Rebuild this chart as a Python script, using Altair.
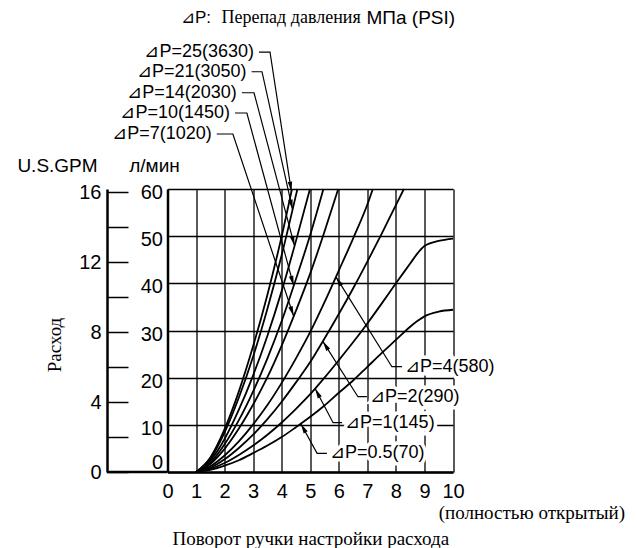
import math
import altair as alt
import numpy as np
import pandas as pd

# ---------------- plot geometry ----------------
W, H = 285.5, 283.0
PX_X = W / 10.0   # pixels per turn
PX_Y = H / 60.0   # pixels per l/min

# ---------------- data ----------------
x_ticks = list(range(0, 11))
lpm_ticks = [0, 10, 20, 30, 40, 50, 60]
gpm_ticks = [0, 2, 4, 6, 8, 10, 12, 14, 16]

dp_names = ["25", "21", "14", "10", "7", "4", "2", "1", "0.5"]
dp_labels = ["⊿P=25(3630)", "⊿P=21(3050)", "⊿P=14(2030)", "⊿P=10(1450)",
             "⊿P=7(1020)", "⊿P=4(580)", "⊿P=2(290)", "⊿P=1(145)", "⊿P=0.5(70)"]

dp25_x = [1, 1.5, 2, 2.5, 3, 3.5, 4, 4.36]
dp25_y = [0, 3.1, 9.1, 17.1, 26.7, 37.6, 50.0, 60]
dp21_x = [1, 1.5, 2, 2.5, 3, 3.5, 4, 4.5, 4.55]
dp21_y = [0, 2.8, 8.4, 15.8, 24.5, 34.6, 46.0, 58.7, 60]
dp14_x = [1, 1.5, 2, 2.5, 3, 3.5, 4, 4.5, 4.99]
dp14_y = [0, 2.4, 7.0, 13.2, 20.5, 28.9, 38.4, 49.0, 60]
dp10_x = [1, 1.5, 2, 2.5, 3, 3.5, 4, 4.5, 5, 5.46]
dp10_y = [0, 2.0, 5.9, 11.0, 17.1, 24.1, 32.0, 40.9, 50.3, 60]
dp7_x = [1, 1.5, 2, 2.5, 3, 3.5, 4, 4.5, 5, 5.5, 5.98]
dp7_y = [0, 1.7, 4.9, 9.2, 14.3, 20.1, 26.8, 34.2, 42.1, 51.0, 60]
dp4_x = [1, 1.5, 2, 2.5, 3, 3.5, 4, 4.5, 5, 5.5, 6, 6.5, 7, 7.19]
dp4_y = [0, 1.2, 3.5, 6.5, 10.1, 14.2, 18.9, 24.1, 29.7, 36.0, 42.7, 49.5, 56.7, 60]
dp2_x = [1, 1.5, 2, 2.5, 3, 3.5, 4, 4.5, 5, 5.5, 6, 6.5, 7, 7.5, 8, 8.28]
dp2_y = [0, 0.9, 2.7, 5.1, 7.9, 11.2, 14.9, 19.0, 23.3, 28.3, 33.5, 38.9, 44.6, 50.5, 56.6, 60]
dp1_x = [1, 1.5, 2, 2.5, 3, 3.5, 4, 4.5, 5, 5.5, 6, 6.5, 7, 7.5, 8, 8.5, 8.75, 9, 9.5, 10]
dp1_y = [0, 0.65, 1.9, 3.6, 5.6, 7.9, 10.5, 13.4, 16.5, 20.0, 23.7, 27.5, 31.5, 35.7, 40.0,
         44.2, 46.3, 47.9, 49.0, 49.5]
dp05_x = [1, 1.5, 2, 2.5, 3, 3.5, 4, 4.5, 5, 5.5, 6, 6.5, 7, 7.5, 8, 8.5, 8.75, 9, 9.5, 10]
dp05_y = [0, 0.45, 1.35, 2.5, 4.0, 5.6, 7.4, 9.5, 11.7, 14.1, 16.8, 19.4, 22.3, 25.2, 28.0,
          30.8, 32.0, 33.0, 34.0, 34.4]

curve_x = [dp25_x, dp21_x, dp14_x, dp10_x, dp7_x, dp4_x, dp2_x, dp1_x, dp05_x]
curve_y = [dp25_y, dp21_y, dp14_y, dp10_y, dp7_y, dp4_y, dp2_y, dp1_y, dp05_y]

# callouts: turn value where each arrow touches its curve
arrow_turn = [4.34, 4.38, 4.45, 4.42, 4.42, 5.90, 5.44, 5.17, 4.67]
# label anchor (turns, l/min) and leader elbow (turns)
label_x = [3.03, 2.77, 2.43, 2.19, 1.55, 8.32, 7.09, 6.22, 5.69]
label_y = [89.04, 84.86, 80.41, 76.11, 71.66, 22.32, 15.96, 10.45, 3.96]
elbow_x = [3.59, 3.31, 3.03, 2.78, 2.29, 7.86, 6.67, 5.80, 5.24]
label_side = ["top"] * 5 + ["right"] * 4

# ---------------- tables ----------------
rows = []
for name, xs, ys in zip(dp_names, curve_x, curve_y):
    for xv, yv in zip(xs, ys):
        rows.append({"dp": name, "turn": xv, "flow": yv})
curves = pd.DataFrame(rows)

lead_rows, arrow_rows, text_rows = [], [], []
for i, name in enumerate(dp_names):
    tx = arrow_turn[i]
    ty = float(np.interp(tx, curve_x[i], curve_y[i]))
    lx, ly, ex = label_x[i], label_y[i], elbow_x[i]
    if label_side[i] == "top":
        dash_start = lx + 5 / PX_X
        align = "right"
    else:
        dash_start = lx - 3 / PX_X
        align = "left"
    pts = [(dash_start, ly), (ex, ly), (tx, ty)]
    for k, (px, py) in enumerate(pts):
        lead_rows.append({"dp": name, "o": k, "turn": px, "flow": py})
    dx = (tx - ex) * PX_X
    dy = -(ty - ly) * PX_Y
    ang = math.degrees(math.atan2(dx, -dy)) % 360
    arrow_rows.append({"dp": name, "turn": tx, "flow": ty, "angle": ang})
    text_rows.append({"dp": name, "turn": lx, "flow": ly, "label": dp_labels[i], "align": align})

leaders = pd.DataFrame(lead_rows)
arrows = pd.DataFrame(arrow_rows)
texts = pd.DataFrame(text_rows)
gpm_df = pd.DataFrame({"gpm": gpm_ticks})

SANS = "Liberation Sans"
SERIF = "Liberation Serif"

xscale = alt.Scale(domain=[0, 10], nice=False)
yscale = alt.Scale(domain=[0, 60], nice=False)

x_axis = alt.Axis(values=x_ticks, grid=True, gridColor="black", gridWidth=1.3,
                  gridOpacity=1, domainColor="black", domainWidth=2.5, ticks=False,
                  labelFont=SANS, labelFontSize=20, labelColor="black", labelPadding=9,
                  labelAngle=0, labelOverlap=False, labelFlush=False,
                  title="Поворот ручки настройки расхода", titleFont=SERIF, titleFontSize=19,
                  titleFontWeight="normal", titleColor="black", titleBaseline="middle",
                  titleY=66)
y_axis = alt.Axis(values=lpm_ticks, grid=True, gridColor="black", gridWidth=1.3, gridOpacity=1,
                  domainColor="black", domainWidth=2.5, ticks=False, labelOverlap=False,
                  labelFont=SANS, labelFontSize=20, labelColor="black", labelPadding=5,
                  labelOffset={"condition": {"test": "datum.value == 0", "value": -10}, "value": 3.5},
                  title="л/мин", titleFont=SANS, titleFontSize=19, titleFontWeight="normal",
                  titleColor="black", titleAngle=0, titleAlign="center", titleBaseline="middle",
                  titleX=-13.5, titleY=-24)

X = alt.X("turn:Q", scale=xscale, axis=x_axis)
Y = alt.Y("flow:Q", scale=yscale, axis=y_axis)

lines = alt.Chart(curves).mark_line(color="black", strokeWidth=1.8, interpolate="monotone").encode(
    x=X, y=Y, detail="dp:N",
)

lead = alt.Chart(leaders).mark_line(color="black", strokeWidth=1.2).encode(
    x=X, y=Y, detail="dp:N", order="o:Q",
)

heads = alt.Chart(arrows).mark_point(
    shape="M0,0L-0.45,2L0.45,2Z", filled=True, color="black", opacity=1, size=100
).encode(
    x=X, y=Y, angle=alt.Angle("angle:Q", scale=None),
)

def label_layer(align, halo):
    kw = dict(font=SANS, fontSize=18, align=align, baseline="middle")
    if halo:
        kw.update(color="white", stroke="white", strokeWidth=7)
    else:
        kw.update(color="black")
    return alt.Chart(texts[texts["align"] == align]).mark_text(**kw).encode(
        x=X, y=Y, text="label:N",
    )

gpm_axis = alt.Chart(gpm_df).mark_point(opacity=0).encode(
    x=alt.value(0),
    y=alt.Y("gpm:Q", scale=alt.Scale(domain=[0, 16.2], nice=False),
            axis=alt.Axis(orient="right", offset=-(W + 60.5), values=gpm_ticks, grid=False,
                          domainColor="black", domainWidth=2.5, labelOverlap=False,
                          tickColor="black", tickWidth=1.5, tickSize=21,
                          labelExpr="datum.value % 4 == 0 ? datum.label : ''",
                          labelAlign="right", labelPadding=-27, labelBaseline="middle",
                          labelFont=SANS, labelFontSize=20, labelColor="black",
                          title="U.S.GPM", titleFont=SANS, titleFontSize=19,
                          titleFontWeight="normal", titleColor="black", titleAngle=0,
                          titleAlign="center", titleBaseline="middle",
                          titleX=-50, titleY=-24)),
)

one = gpm_df.head(1)
base_rule = alt.Chart(one).mark_rule(color="black", strokeWidth=2.5).encode(
    x=alt.value(-60.5), x2=alt.value(0), y=alt.value(H)
)

side_title = alt.Chart(one).mark_text(
    text="Расход", font=SERIF, fontSize=19, angle=270, color="black", baseline="middle"
).encode(x=alt.value(-112.5), y=alt.value(156))

open_note = alt.Chart(one).mark_text(
    text="(полностью открытый)", font=SERIF, fontSize=19, align="right", color="black",
    baseline="middle"
).encode(x=alt.value(457.5), y=alt.value(324))

t1 = alt.Chart(one).mark_text(
    text="⊿P:", font=SANS, fontSize=17, align="left", color="black", baseline="middle"
).encode(x=alt.value(13.5), y=alt.value(-171))
t2 = alt.Chart(one).mark_text(
    text="Перепад  давления", font=SERIF, fontSize=18, align="left", color="black",
    baseline="middle"
).encode(x=alt.value(54), y=alt.value(-171))
t3 = alt.Chart(one).mark_text(
    text="МПа (PSI)", font=SANS, fontSize=19, align="left", color="black", baseline="middle"
).encode(x=alt.value(199), y=alt.value(-171))

main = alt.layer(
    lines, lead, heads,
    label_layer("right", True), label_layer("left", True),
    label_layer("right", False), label_layer("left", False),
    base_rule, side_title, open_note, t1, t2, t3,
)

chart = alt.layer(main, gpm_axis).resolve_scale(y="independent").properties(
    width=W, height=H,
    autosize=alt.AutoSizeParams(type="none"),
    padding={"left": 159.5, "top": 181, "right": 176, "bottom": 76},
    background="white",
).configure_view(stroke=None)

chart.save("out.html", embed_options={"renderer": "svg", "actions": False})
